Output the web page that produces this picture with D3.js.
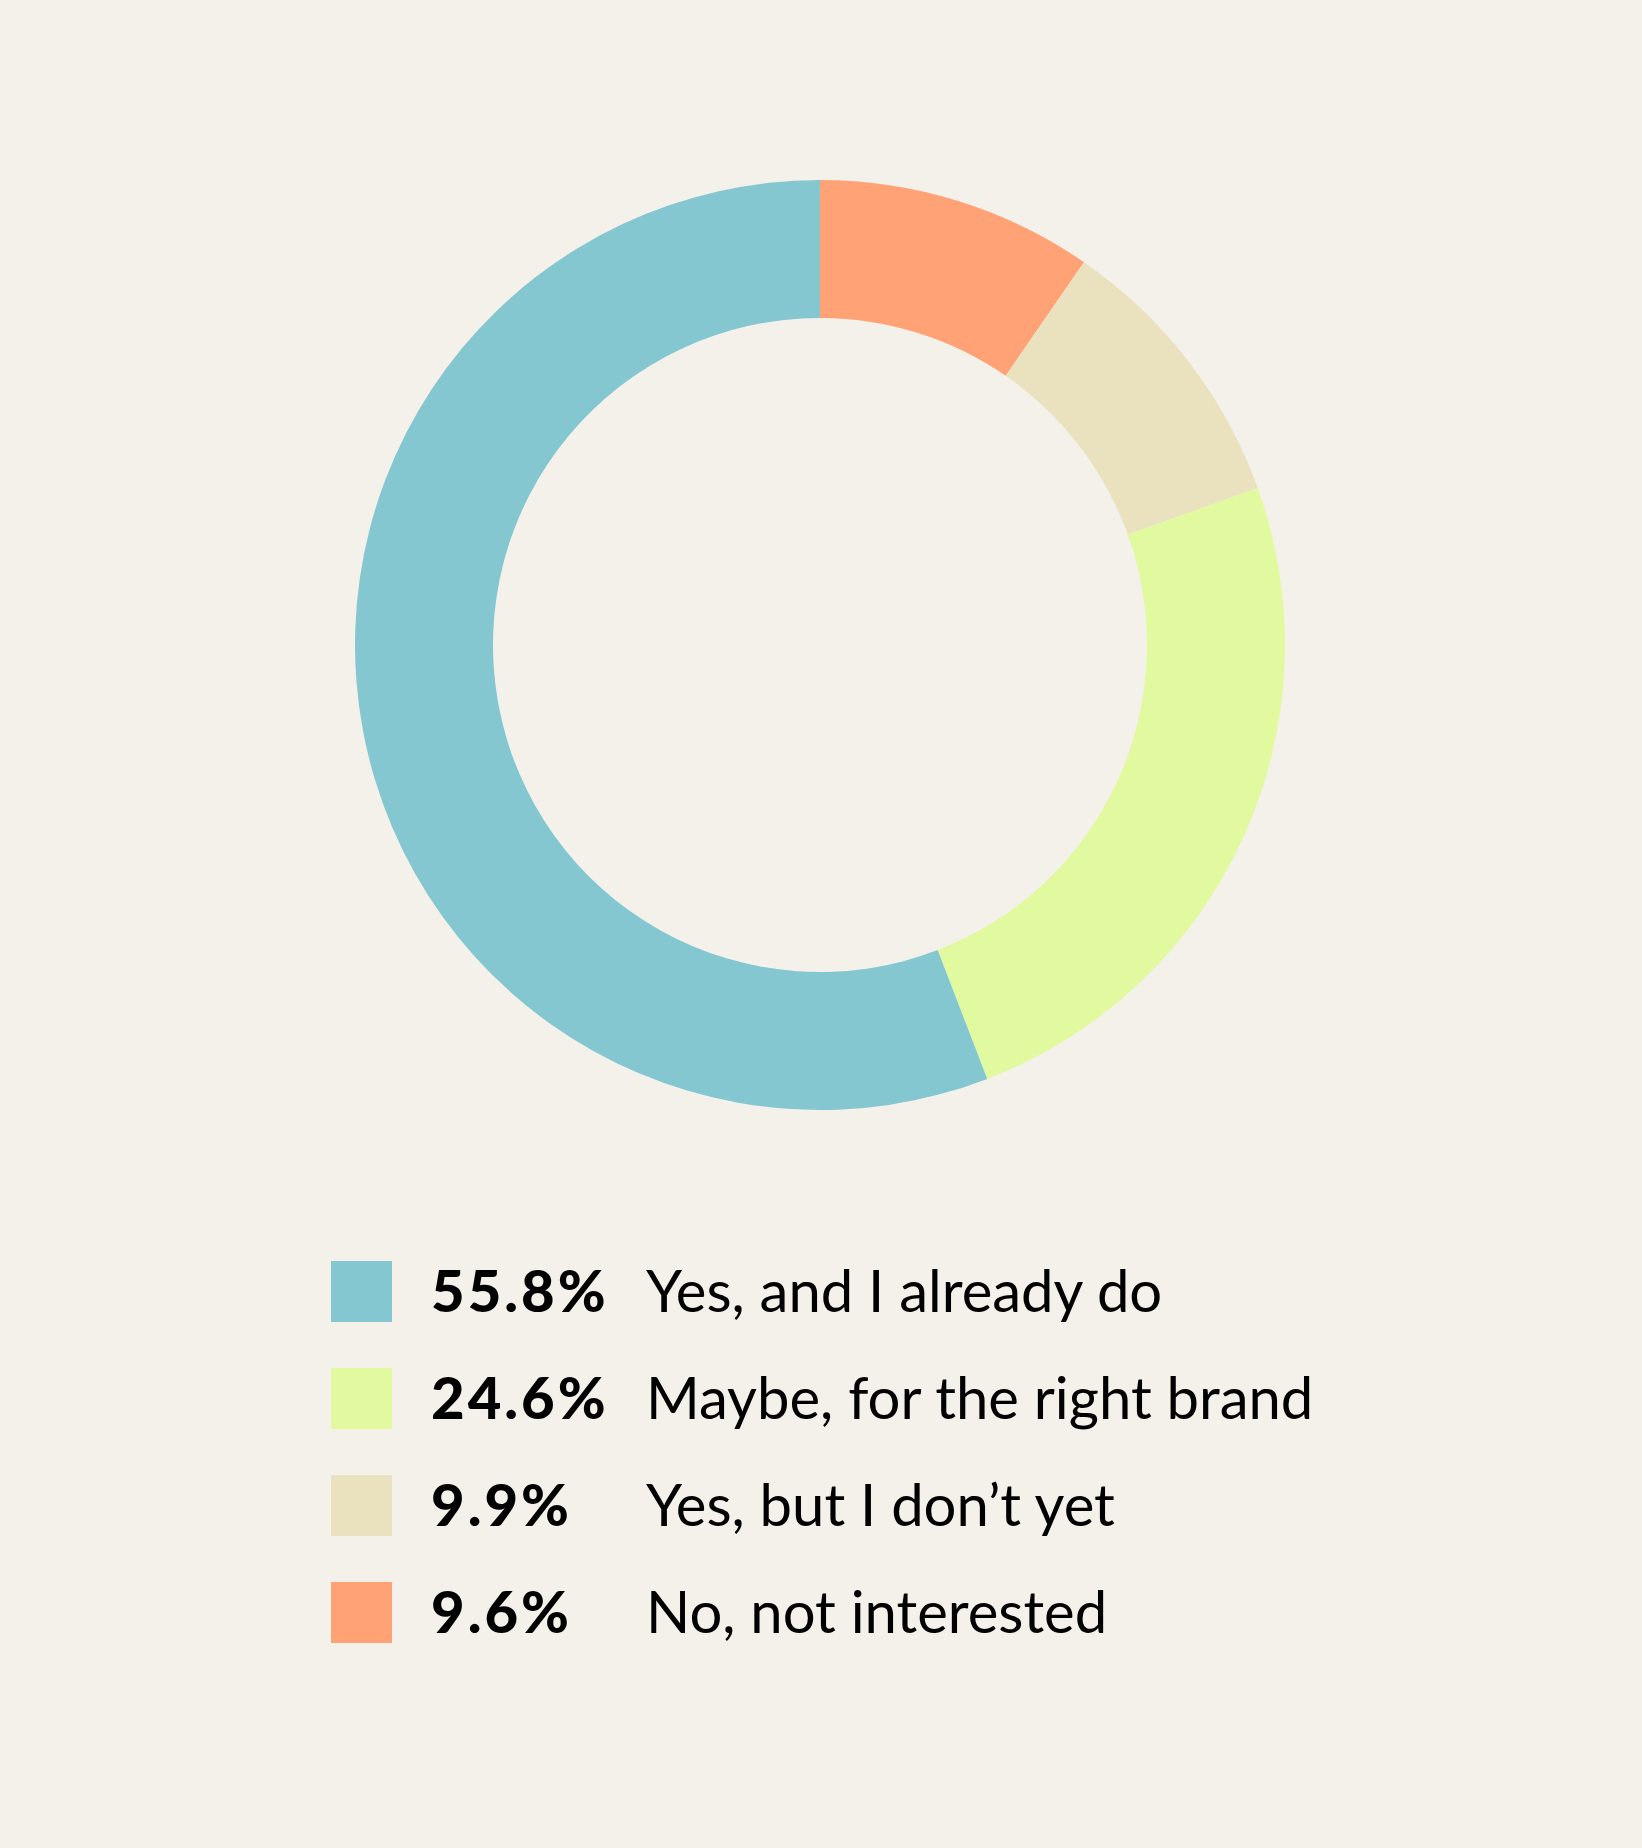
<!DOCTYPE html>
<html>
<head>
<meta charset="utf-8">
<script src="https://cdn.jsdelivr.net/npm/d3@7"></script>
<style>
  html, body { margin: 0; padding: 0; background: #F4F1EA; }
  svg { display: block; }
</style>
</head>
<body>
<svg id="chart" width="1642" height="1848"></svg>
<script>
// ---- data ----
const categories = ["Yes, and I already do", "Maybe, for the right brand", "Yes, but I don\u2019t yet", "No, not interested"];
const values = [55.8, 24.6, 9.9, 9.6];
const pctLabels = ["55.8%", "24.6%", "9.9%", "9.6%"];
const colors = ["#84C7D1", "#E1F99F", "#EAE1BF", "#FFA376"];
// order of slices clockwise from 12 o'clock
const sliceOrder = [3, 2, 1, 0];

const svg = d3.select("#chart");
const W = 1642, H = 1848;
svg.append("rect").attr("width", W).attr("height", H).attr("fill", "#F4F1EA");

const cx = 820, cy = 645, outerR = 465, innerR = 327;

const pie = d3.pie()
  .value(i => values[i])
  .sort(null);

const arc = d3.arc().innerRadius(innerR).outerRadius(outerR);

const g = svg.append("g").attr("transform", `translate(${cx},${cy})`);
g.selectAll("path")
  .data(pie(sliceOrder))
  .join("path")
  .attr("d", arc)
  .attr("fill", d => colors[d.data]);

// ---- legend ----
const fontFamily = "Lato, 'Open Sans', sans-serif";
const fontSize = 58;
const capH = 41.5;
const sq = 61;
const legendX = 331, legendY0 = 1261, rowStep = 107;
const pctX = 431, labelX = 646, gap = 36;

const y = d3.scaleLinear().domain([0, 1]).range([legendY0, legendY0 + rowStep]);

const rows = svg.append("g").selectAll("g")
  .data(d3.range(categories.length))
  .join("g")
  .attr("transform", i => `translate(0,${y(i)})`);

rows.append("rect")
  .attr("x", legendX).attr("y", 0)
  .attr("width", sq).attr("height", sq)
  .attr("fill", i => colors[i]);

const pct = rows.append("text")
  .attr("x", pctX)
  .attr("y", sq / 2 + capH / 2)
  .attr("font-family", fontFamily)
  .attr("font-size", fontSize)
  .attr("font-weight", 900)
  .attr("letter-spacing", 3)
  .attr("fill", "#000")
  .text(i => pctLabels[i]);

rows.append("text")
  .attr("x", function(i) {
    const w = pct.nodes()[i].getComputedTextLength() - 3;
    return Math.max(labelX, pctX + w + gap);
  })
  .attr("y", sq / 2 + capH / 2)
  .attr("font-family", fontFamily)
  .attr("font-size", fontSize)
  .attr("font-weight", 400)
  .attr("fill", "#000")
  .text(i => categories[i]);
</script>
</body>
</html>
